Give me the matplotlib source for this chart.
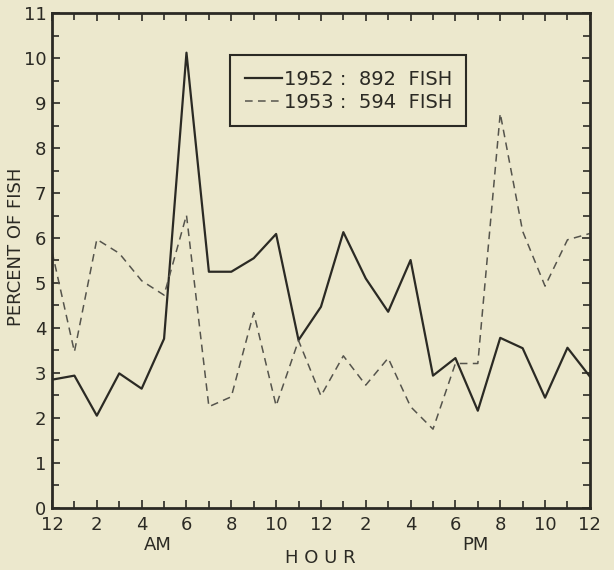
import numpy as np
import matplotlib.pyplot as plt
from matplotlib.ticker import MultipleLocator

# hour of day, 0 = midnight
hours = list(range(25))
fish_1952 = [2.85, 2.94, 2.05, 2.99, 2.65, 3.76, 10.12, 5.25, 5.25, 5.55, 6.09, 3.73,
             4.47, 6.13, 5.10, 4.36, 5.51, 2.94, 3.33, 2.16, 3.78, 3.55, 2.45, 3.56, 2.92]
fish_1953 = [5.70, 3.47, 5.97, 5.66, 5.05, 4.73, 6.51, 2.25, 2.47, 4.34, 2.27, 3.72,
             2.49, 3.38, 2.73, 3.33, 2.25, 1.75, 3.21, 3.21, 8.77, 6.15, 4.93, 5.96, 6.10]
tick_hours = list(range(0, 25, 2))
tick_labels = ['12', '2', '4', '6', '8', '10', '12', '2', '4', '6', '8', '10', '12']

bg = '#ece8cd'
ink = '#2b2a24'

plt.rcParams['font.family'] = 'DejaVu Sans'
fig = plt.figure(figsize=(6.14, 5.70), dpi=100, facecolor=bg)
ax = fig.add_axes([0.0847, 0.109, 0.876, 0.868], facecolor=bg)

ax.plot(hours, fish_1952, color=ink, lw=1.6, label='1952 :  892  FISH')
ax.plot(hours, fish_1953, color='#55544c', lw=1.1, linestyle=(0, (5, 3.5)), label='1953 :  594  FISH')

ax.set_xlim(0, 24)
ax.set_ylim(0, 11)
ax.set_xticks(tick_hours)
ax.set_xticklabels(tick_labels)
ax.xaxis.set_minor_locator(MultipleLocator(1))
ax.set_yticks(range(12))
ax.yaxis.set_minor_locator(MultipleLocator(0.5))
ax.tick_params(which='both', direction='in', top=True, right=True, color=ink,
               labelsize=13, labelcolor=ink, width=1.2)
ax.tick_params(which='major', length=6)
ax.tick_params(which='minor', length=5)
ax.tick_params(axis='x', pad=6)
ax.tick_params(axis='y', pad=4)
for s in ax.spines.values():
    s.set_linewidth(2)
    s.set_color(ink)

fig.text(0.026, 0.567, 'PERCENT OF FISH', fontsize=13, color=ink, rotation=90,
         ha='center', va='center')
fig.text(0.257, 0.035, 'AM', fontsize=13, color=ink, ha='center')
fig.text(0.774, 0.035, 'PM', fontsize=13, color=ink, ha='center')
fig.text(0.522, 0.012, 'H O U R', fontsize=13, color=ink, ha='center')

leg = ax.legend(loc='upper left', bbox_to_anchor=(0.331, 0.915), fontsize=14,
                frameon=True, fancybox=False, handlelength=1.9, handletextpad=0.1,
                borderpad=0.75, labelspacing=0.2, borderaxespad=0, labelcolor=ink)
leg.get_frame().set_edgecolor(ink)
leg.get_frame().set_linewidth(1.5)
leg.get_frame().set_facecolor(bg)
leg.get_frame().set_alpha(1)

plt.savefig('out.png', dpi=100, facecolor=bg)
